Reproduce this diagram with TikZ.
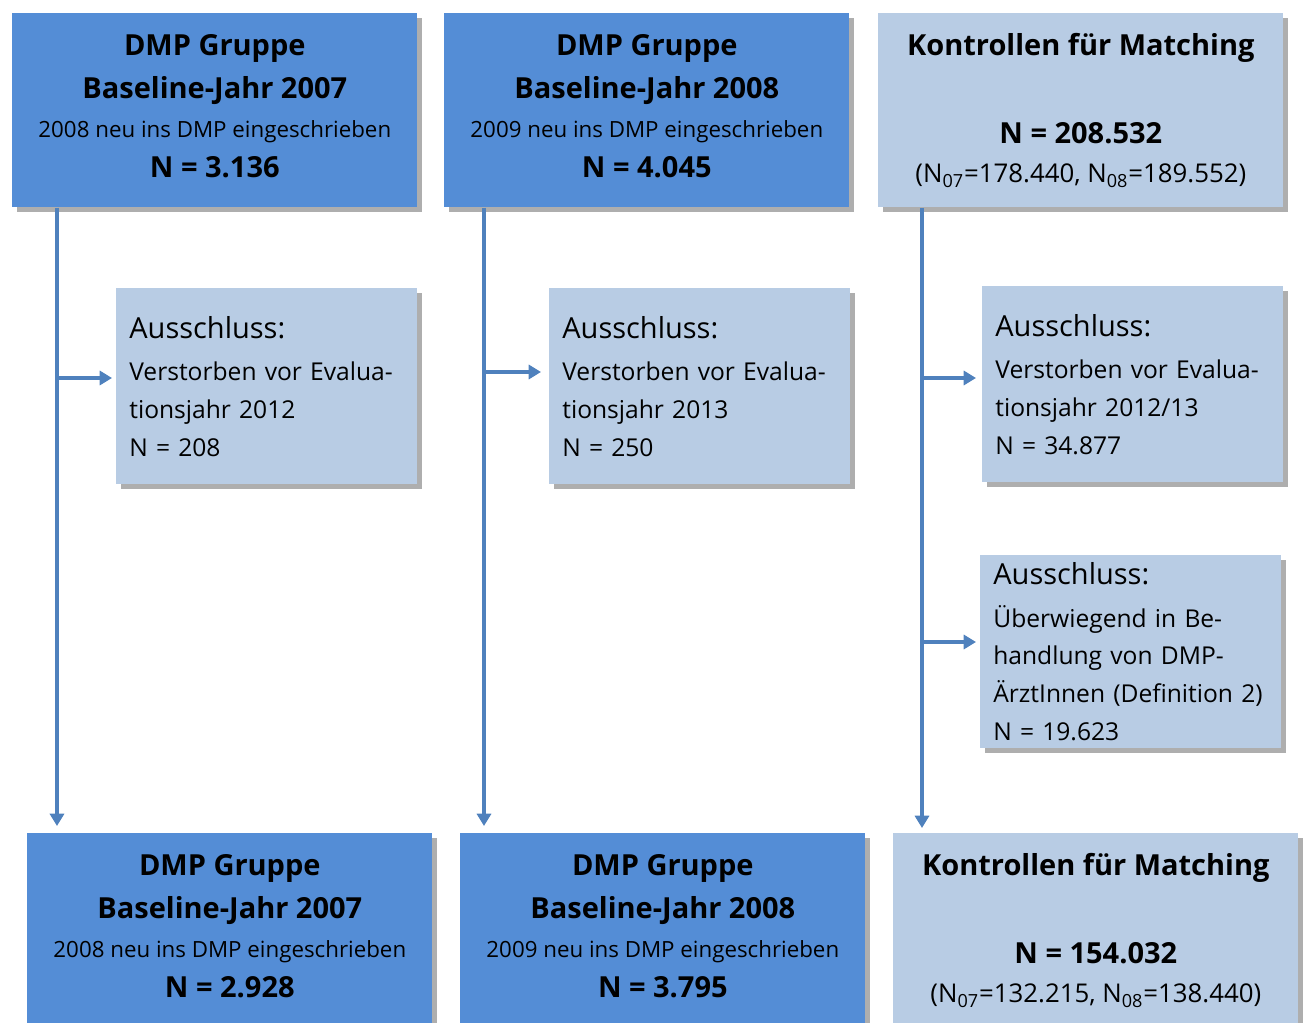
\documentclass[tikz,border=0pt]{standalone}
\usepackage{fontspec}
\setmainfont{Open Sans}
\usetikzlibrary{arrows.meta,shadows,calc}

\definecolor{dmpblue}{RGB}{84,141,214}
\definecolor{ctrlblue}{RGB}{184,204,228}
\definecolor{lineblue}{RGB}{79,129,189}

% font switches
\newcommand{\hdfont}{\fontsize{16.5}{22.5}\bfseries\selectfont}
\newcommand{\smfont}{\fontsize{12.7}{22.5}\mdseries\selectfont}
\newcommand{\pnfont}{\fontsize{14.7}{22.5}\mdseries\selectfont}
\newcommand{\exfont}{\fontsize{16.5}{21.5}\mdseries\selectfont}
\newcommand{\extxt}{\fontsize{14}{21.5}\mdseries\selectfont}
\newcommand{\dstrut}{\rule[-5pt]{0pt}{5pt}}

\tikzset{
  boxshadow/.style={drop shadow={shadow xshift=2.5pt, shadow yshift=-2.5pt, opacity=0.45, fill=black!70}},
  dmpbox/.style={fill=dmpblue, anchor=north west, minimum width=8.1cm, minimum height=3.88cm,
    align=center, inner sep=0pt, font=\smfont, boxshadow},
  ctrlbox/.style={dmpbox, fill=ctrlblue},
  exclbox/.style={fill=ctrlblue, anchor=north west, inner xsep=0.26cm, inner ysep=0pt,
    text width=5.5cm, minimum height=3.92cm, align=left, font=\extxt, boxshadow},
  flow/.style={draw=lineblue, line width=2.8pt, -{Triangle[width=8pt,length=7pt]}}
}

\begin{document}
\begin{tikzpicture}[x=0.02cm, y=-0.02cm]
    \useasboundingbox (0,0) rectangle (1308,1023);
    \clip (0,0) rectangle (1308,1023);

    % Top row
    \node[dmpbox] (tl) at (12,13) {%
      \hdfont DMP Gruppe\\[2pt] \hdfont Baseline-Jahr 2007\\ 2008 neu ins DMP eingeschrieben\\ \hdfont N = 3.136\dstrut};
    \node[dmpbox] (tm) at (444,13) {%
      \hdfont DMP Gruppe\\[2pt] \hdfont Baseline-Jahr 2008\\ 2009 neu ins DMP eingeschrieben\\ \hdfont N = 4.045\dstrut};
    \node[ctrlbox] (tr) at (878,13) {%
      \hdfont Kontrollen für Matching\\[27.5pt] \hdfont N = 208.532\\ \pnfont (N\textsubscript{07}=178.440, N\textsubscript{08}=189.552)};

    % Exclusions
    \node[exclbox] (ml) at (116,288) {%
      \exfont Ausschluss:\\[2.5pt] \extxt Verstorben vor Evalua-\\ tionsjahr 2012\\ N = 208};
    \node[exclbox] (mm) at (549,288) {%
      \exfont Ausschluss:\\[2.5pt] \extxt Verstorben vor Evalua-\\ tionsjahr 2013\\ N = 250};
    \node[exclbox] (mr1) at (982,286) {%
      \exfont Ausschluss:\\[2.5pt] \extxt Verstorben vor Evalua-\\ tionsjahr 2012/13\\ N = 34.877};
    \node[exclbox, minimum height=3.86cm] (mr2) at (980,555) {%
      \exfont Ausschluss:\\[2.5pt] \extxt Überwiegend in Be-\\ handlung von DMP-\\ ÄrztInnen (Definition 2)\\ N = 19.623};

    % Bottom row
    \node[dmpbox] (bl) at (27,833) {%
      \hdfont DMP Gruppe\\[2pt] \hdfont Baseline-Jahr 2007\\ 2008 neu ins DMP eingeschrieben\\ \hdfont N = 2.928\dstrut};
    \node[dmpbox] (bm) at (460,833) {%
      \hdfont DMP Gruppe\\[2pt] \hdfont Baseline-Jahr 2008\\ 2009 neu ins DMP eingeschrieben\\ \hdfont N = 3.795\dstrut};
    \node[ctrlbox] (br) at (893,833) {%
      \hdfont Kontrollen für Matching\\[27.5pt] \hdfont N = 154.032\\ \pnfont (N\textsubscript{07}=132.215, N\textsubscript{08}=138.440)};

    % Flow lines
    \coordinate (s1) at ([xshift=0.9cm]tl.south west);
    \coordinate (s2) at ([xshift=0.8cm]tm.south west);
    \coordinate (s3) at ([xshift=0.88cm]tr.south west);
    \draw[flow, shorten >=0.14cm] (s1) -- (s1 |- bl.north);
    \draw[flow, shorten >=0.14cm] (s2) -- (s2 |- bm.north);
    \draw[flow, shorten >=0.1cm] (s3) -- (s3 |- br.north);

    \coordinate (j1) at (57,378);
    \coordinate (j2) at (484,372);
    \coordinate (j3) at (922,378);
    \coordinate (j4) at (922,642);
    \draw[flow, shorten >=0.08cm] (j1) -- (j1 -| ml.west);
    \draw[flow, shorten >=0.16cm] (j2) -- (j2 -| mm.west);
    \draw[flow, shorten >=0.12cm] (j3) -- (j3 -| mr1.west);
    \draw[flow, shorten >=0.08cm] (j4) -- (j4 -| mr2.west);

\end{tikzpicture}
\end{document}
